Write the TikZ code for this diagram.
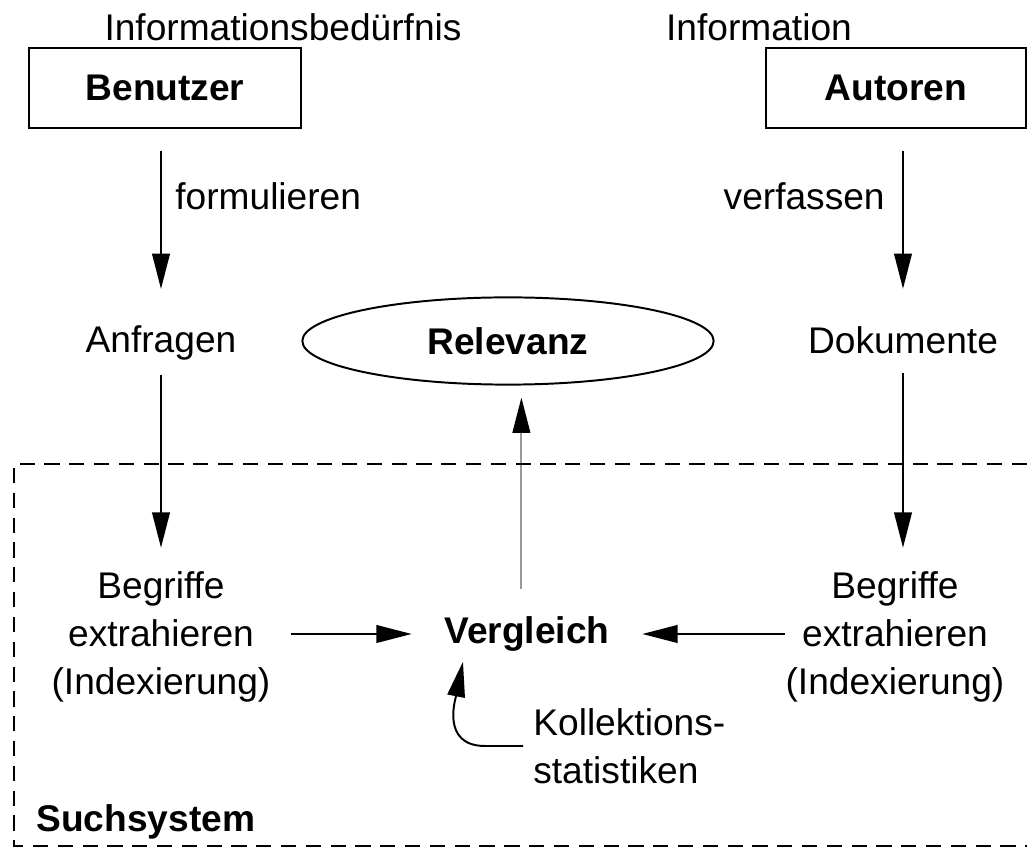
\documentclass[tikz,border=0pt]{standalone}
\usepackage{fontspec}
\setmainfont{Liberation Sans}
\usetikzlibrary{positioning, shapes.geometric, arrows.meta}

\begin{document}
\begin{tikzpicture}[x=0.0125cm, y=0.0125cm, font=\fontsize{13.2}{17}\selectfont, line width=0.7pt]
	\tikzset{arrow/.style={-{Triangle[length=0.44cm, width=0.22cm]}}}
	\tikzset{actorBox/.style={draw, rectangle, minimum height=1cm, font=\fontsize{13.2}{17}\selectfont\bfseries}}
	\tikzset{stepText/.style={align=center, inner sep=0pt}}
	\tikzset{frameLine/.style={dash pattern=on 0.19cm off 0.12cm}}

	\useasboundingbox (0,0) rectangle (1027,-849);

	% Actors
	\node (need) at (283,-27) {Informationsbedürfnis};
	\node (benutzer) [actorBox, minimum width=3.39cm] at (165,-88) {Benutzer};
	\node (info) at (759,-27) {Information};
	\node (autoren) [actorBox, minimum width=3.25cm] at (896,-88) {Autoren};

	% Query side
	\node (anfragen) at (161,-343) {Anfragen};
	\node (begrL) [stepText] at (161,-637) {Begriffe\\extrahieren\\(Indexierung)};
	\draw [arrow, shorten <=0.27cm, shorten >=0.33cm] (anfragen |- benutzer.south) -- node[pos=0.36, right=0.05cm]{formulieren} (anfragen.north);
	\draw [arrow, shorten <=0.06cm, shorten >=0.29cm] (anfragen.south) -- (anfragen.south |- begrL.north);

	% Document side
	\node (dokumente) at (903,-340) {Dokumente};
	\node (begrR) [stepText] at (895,-637) {Begriffe\\extrahieren\\(Indexierung)};
	\draw [arrow, shorten <=0.27cm, shorten >=0.34cm] (dokumente |- autoren.south) -- node[pos=0.36, left=0.1cm]{verfassen} (dokumente.north);
	\draw [arrow, shorten <=0.11cm, shorten >=0.29cm] (dokumente.south) -- (dokumente.south |- begrR.north);

	% Matching
	\node (relevanz) [draw, ellipse, minimum width=5.14cm, minimum height=1.09cm, font=\fontsize{13.2}{17}\selectfont\bfseries] at (508,-341) {Relevanz};
	\node (vergleich) [font=\fontsize{13.2}{17}\selectfont\bfseries] at (527,-634) {Vergleich};
	\draw [arrow, shorten <=0.24cm, shorten >=0.28cm] (vergleich -| begrL.east) -- (vergleich.west);
	\draw [arrow, shorten >=0.28cm] (vergleich -| begrR.west) -- (vergleich.east);
	\draw [-{Triangle[length=0.44cm, width=0.22cm, black]}, black!40, shorten <=0.22cm, shorten >=0.15cm] ([xshift=-0.07cm]vergleich.north) -- ([xshift=-0.07cm]vergleich.north |- relevanz.south);

	% Collection statistics
	\node (koll) [anchor=west, align=left] at (523,-746) {Kollektions-\\statistiken};
	\draw [arrow] (koll.west) -- ++(-38,0) .. controls +(-45,0) and +(-7,-35) .. ([xshift=-0.8cm]vergleich.south);

	% Search system frame
	\draw [frameLine] (1027,-464) -- (14,-464) -- (14,-846) -- (1027,-846);
	\node (such) [anchor=west, font=\fontsize{13.2}{17}\selectfont\bfseries] at (26,-822) {Suchsystem};

\end{tikzpicture}
\end{document}
